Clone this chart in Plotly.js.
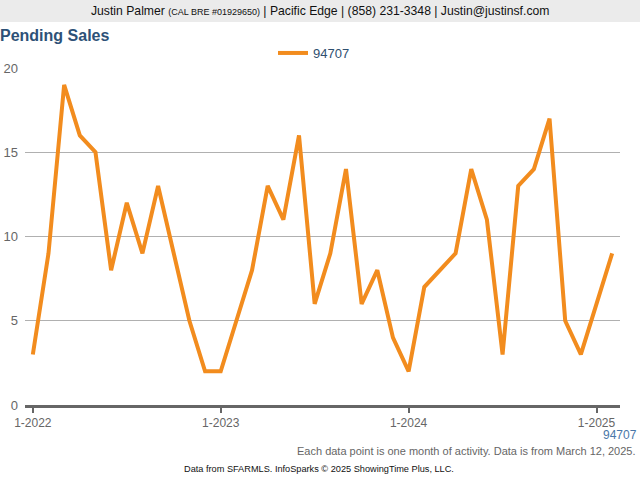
<!DOCTYPE html>
<html>
<head>
<meta charset="utf-8">
<script src="https://cdn.plot.ly/plotly-3.0.1.min.js"></script>
<style>
html,body{margin:0;padding:0;background:#fff;}
#chart{width:640px;height:480px;}
</style>
</head>
<body>
<div id="chart"></div>
<script>
// Month labels (Jan 2022 .. Feb 2025)
const months = [
  "1-2022","2-2022","3-2022","4-2022","5-2022","6-2022","7-2022","8-2022","9-2022","10-2022","11-2022","12-2022",
  "1-2023","2-2023","3-2023","4-2023","5-2023","6-2023","7-2023","8-2023","9-2023","10-2023","11-2023","12-2023",
  "1-2024","2-2024","3-2024","4-2024","5-2024","6-2024","7-2024","8-2024","9-2024","10-2024","11-2024","12-2024",
  "1-2025","2-2025"
];
// Pending sales, ZIP 94707
const pending94707 = [
  3, 9, 19, 16, 15, 8, 12, 9, 13, 9, 5, 2,
  2, 5, 8, 13, 11, 16, 6, 9, 14, 6, 8, 4,
  2, 7, 8, 9, 14, 11, 3, 13, 14, 17, 5, 3,
  6, 9
];
const tickLabels = ["1-2022","1-2023","1-2024","1-2025"];
const yTicks = [0, 5, 10, 15, 20];
const seriesName = "94707";

const FONT = "Liberation Sans, Arial, Helvetica, sans-serif";
const plotTop = 68, plotBottom = 405, plotLeft = 25, plotRight = 620;
const ph = plotBottom - plotTop, pw = plotRight - plotLeft;
const py = px => 1 + (plotTop - px) / ph;       // pixel y -> paper y
const pxx = px => (px - plotLeft) / pw;          // pixel x -> paper x

const data = [{
  type: "scatter",
  mode: "lines",
  x: months,
  y: pending94707,
  name: seriesName,
  line: {color: "#f28c1e", width: 4},
  hoverinfo: "x+y"
}];

const layout = {
  width: 640, height: 480,
  margin: {l: plotLeft, r: 640 - plotRight, t: plotTop, b: 480 - plotBottom, pad: 0},
  paper_bgcolor: "#ffffff",
  plot_bgcolor: "#ffffff",
  font: {family: FONT, color: "#555"},
  title: {
    text: "<b>Pending Sales</b>",
    font: {family: FONT, size: 16, color: "#2d5177"},
    x: 0, xref: "container", xanchor: "left",
    y: 1 - 35/480, yref: "container", yanchor: "middle"
  },
  showlegend: true,
  legend: {
    orientation: "h",
    x: pxx(314), xanchor: "center",
    y: py(53), yanchor: "middle",
    font: {family: FONT, size: 13, color: "#2f4f6f"},
    itemwidth: 30,
    bgcolor: "rgba(0,0,0,0)"
  },
  xaxis: {
    type: "category",
    range: [-0.5, months.length - 0.5],
    tickmode: "array",
    tickvals: tickLabels,
    ticktext: tickLabels,
    ticks: "outside", ticklen: 5, tickwidth: 2, tickcolor: "#666",
    showgrid: false,
    showline: true, linecolor: "#666", linewidth: 3,
    zeroline: false,
    tickfont: {family: FONT, size: 12, color: "#666"},
    fixedrange: true
  },
  yaxis: {
    range: [0, 20],
    tickmode: "array",
    tickvals: yTicks,
    ticks: "", showline: false,
    showgrid: true, gridcolor: "#b0b0b0", gridwidth: 1,
    zeroline: false,
    tickfont: {family: FONT, size: 13, color: "#666"},
    ticklabelstandoff: 6,
    fixedrange: true
  },
  shapes: [{
    type: "rect", xref: "paper", yref: "paper",
    x0: pxx(0), x1: pxx(640), y0: py(22), y1: py(0),
    fillcolor: "#ebebeb", line: {width: 0}, layer: "below"
  }],
  annotations: [
    {
      text: "Justin Palmer <span style='font-size:9px'>(CAL BRE #01929650)</span> | Pacific Edge | (858) 231-3348 | Justin@justinsf.com",
      xref: "paper", yref: "paper", x: pxx(320), y: py(11),
      xanchor: "center", yanchor: "middle", showarrow: false,
      font: {family: FONT, size: 12.2, color: "#111"}
    },
    {
      text: seriesName,
      xref: "paper", yref: "paper", x: pxx(639), y: py(435),
      xanchor: "right", yanchor: "middle", showarrow: false,
      font: {family: FONT, size: 12, color: "#4a77a8"}
    },
    {
      text: "Each data point is one month of activity. Data is from March 12, 2025.",
      xref: "paper", yref: "paper", x: pxx(638), y: py(451),
      xanchor: "right", yanchor: "middle", showarrow: false,
      font: {family: FONT, size: 11, color: "#666"}
    },
    {
      text: "Data from SFARMLS. InfoSparks © 2025 ShowingTime Plus, LLC.",
      xref: "paper", yref: "paper", x: pxx(319), y: py(469),
      xanchor: "center", yanchor: "middle", showarrow: false,
      font: {family: FONT, size: 9.2, color: "#111"}
    }
  ]
};

Plotly.newPlot("chart", data, layout, {displayModeBar: false, staticPlot: true});
</script>
</body>
</html>
